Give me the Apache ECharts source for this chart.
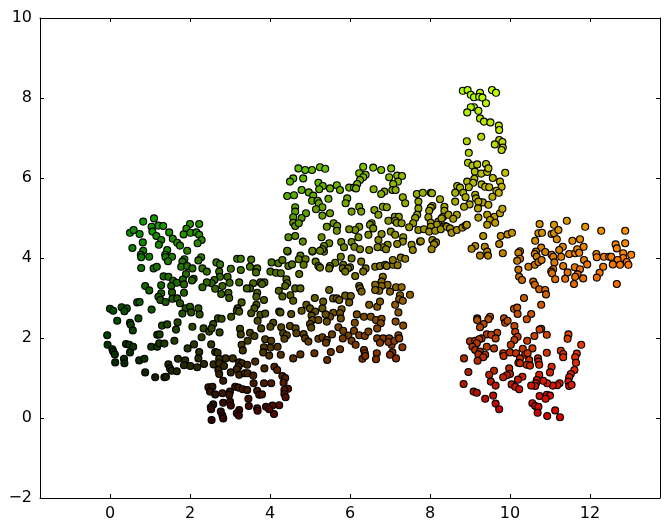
<!DOCTYPE html>
<html><head><meta charset="utf-8">
<style>html,body{margin:0;padding:0;background:#fff}#c{width:670px;height:532px}</style>
<script src="https://cdn.jsdelivr.net/npm/echarts@6/dist/echarts.min.js"></script>
</head><body><div id="c"></div>
<script>
const xTicks=[0,2,4,6,8,10,12];
const yTicks=[-2,0,2,4,6,8,10];
const greenCluster=[[0.83,4.91],[1.10,4.99],[0.50,4.63],[0.59,4.70],[0.74,4.60],[1.04,4.78],[1.06,4.66],[1.21,4.81],[1.33,4.80],[1.16,4.55],[1.48,4.64],[1.28,4.45],[1.22,4.33],[1.57,4.48],[1.68,4.38],[1.75,4.31],[1.93,4.18],[2.0,4.85],[2.23,4.85],[1.91,4.73],[1.84,4.59],[2.01,4.63],[2.16,4.64],[2.23,4.58],[2.29,4.45],[2.19,4.37],[0.82,4.39],[0.56,4.25],[0.83,4.18],[0.77,4.08],[0.78,4.02],[0.98,4.03],[0.78,3.75],[1.09,3.74],[1.17,3.78],[1.43,4.2],[1.38,4.08],[1.39,4.02],[1.55,4.03],[1.45,3.92],[1.86,3.97],[2.28,4.02],[2.21,3.94],[1.81,3.91],[1.78,3.78],[1.93,3.8],[2.06,3.74],[1.9,3.6],[2.31,3.74],[2.42,3.66],[2.66,3.89],[2.75,3.84],[2.73,3.66],[2.75,3.53],[2.61,3.45],[2.54,3.37],[2.42,3.39],[2.31,3.27],[2.63,3.23],[2.81,3.3],[2.78,3.1],[1.34,3.54],[1.46,3.53],[1.58,3.43],[1.82,3.46],[1.85,3.34],[2.09,3.48],[2.05,3.44],[1.67,3.38],[1.53,3.3],[1.28,3.32],[0.88,3.3],[0.98,3.19],[1.55,3.14],[1.85,3.13],[1.28,3.12],[1.21,3.03],[1.26,2.95],[1.39,2.9],[1.56,2.98],[1.68,2.99],[1.75,2.87],[1.89,2.74],[2.0,2.78],[2.03,2.64],[1.81,2.61],[2.21,2.74],[2.24,2.59]];
const darkGreenCluster=[[0,2.73],[0.08,2.68],[0.29,2.77],[0.42,2.74],[0.36,2.67],[0.68,2.89],[0.74,2.9],[1.04,2.71],[0.18,2.43],[0.71,2.49],[0.5,2.38],[0.52,2.33],[0.57,2.19],[-0.07,2.07],[-0.06,1.83],[0.06,1.72],[0.08,1.66],[0.12,1.59],[0.4,1.85],[0.48,1.83],[0.58,1.78],[0.5,1.64],[0.35,1.48],[0.13,1.39],[0.36,1.37],[0.73,1.44],[0.86,1.48],[0.88,1.14],[1.13,1.02],[1.36,1.02],[1.4,1.03],[1.3,2.31],[1.43,2.34],[1.69,2.39],[1.65,2.21],[1.18,2.08],[1.24,2.09],[1.61,1.93],[1.03,1.78],[1.18,1.78],[1.23,1.87],[1.36,1.86],[2.06,2.28],[2.34,2.24],[2.48,2.16],[2.58,2.35],[2.54,2.24],[2.7,2.49],[2.79,2.48],[2.74,2.14],[2.29,2.02],[2.1,1.84],[1.94,1.74],[2.53,1.84],[2.23,1.65],[2.21,1.49],[2.63,1.65],[2.69,1.63],[1.7,1.48],[1.88,1.44],[1.46,1.34],[1.5,1.24],[1.54,1.18],[1.67,1.17],[1.85,1.32],[2.01,1.3],[2.18,1.27],[2.35,1.35]];
const oliveCluster=[[3.18,3.98],[3.27,3.98],[3.53,3.96],[3.02,3.73],[3.27,3.7],[3.5,3.78],[3.68,3.74],[3.65,3.64],[2.94,3.53],[2.99,3.38],[2.96,3.13],[2.98,3.0],[3.23,3.39],[3.58,3.37],[3.76,3.39],[3.86,3.39],[3.8,3.35],[3.5,3.24],[3.42,3.24],[3.68,3.13],[3.66,3.03],[3.85,2.95],[3.29,2.89],[3.66,2.83],[3.61,2.74],[3.53,2.62],[3.19,2.74],[3.17,2.68],[3.23,2.66],[3.03,2.53],[3.76,2.58],[3.88,2.61],[3.69,2.43],[3.78,2.24],[4.08,2.38],[4.01,2.28],[3.25,2.23],[3.27,2.09],[3.5,2.13],[3.61,2.05],[3.44,1.93],[3.29,1.83],[3.32,1.69],[4.04,3.89],[4.21,3.87],[4.31,3.95],[4.44,4.16],[4.76,4.06],[4.72,3.97],[4.89,3.97],[4.84,3.83],[5.06,4.16],[5.35,4.16],[5.14,3.91],[5.21,3.8],[5.25,3.76],[4.46,3.8],[4.55,3.84],[4.01,3.66],[4.15,3.63],[4.27,3.62],[4.73,3.6],[4.41,3.47],[4.43,3.37],[4.38,3.3],[4.63,3.24],[4.76,3.24],[4.22,3.18],[4.31,3.04],[4.51,3.07],[4.58,2.93],[4.23,2.66],[4.26,2.64],[4.53,2.6],[4.79,2.68],[4.91,2.83],[5.12,3.0],[5.0,2.74],[5.13,2.66],[5.33,2.91],[5.31,2.74],[5.04,2.56],[5.06,2.45],[5.21,2.45],[5.0,2.35],[5.03,2.26],[4.5,2.3],[4.64,2.24],[4.66,2.12],[4.28,2.27],[4.33,2.12],[4.42,2.07],[4.36,1.98],[4.84,2.1],[4.88,1.99],[4.96,1.91],[5.21,1.98],[5.31,2.02],[3.88,1.97],[4.03,1.93],[4.01,1.76],[3.85,1.77],[3.83,1.64],[3.98,1.56],[4.19,1.78],[4.27,1.58],[4.58,1.49],[4.76,1.59],[5.11,1.62]];
const brownCluster=[[2.89,1.49],[3.07,1.49],[2.73,1.48],[2.59,1.34],[2.73,1.37],[2.85,1.3],[2.71,1.2],[2.73,1.1],[2.83,0.93],[3.23,1.39],[3.3,1.37],[3.43,1.33],[3.21,1.28],[3.17,1.22],[3.63,1.41],[3.02,1.14],[3.23,1.08],[3.37,1.12],[3.44,1.12],[3.58,1.06],[3.59,0.87],[3.86,1.24],[4.11,1.28],[4.18,1.2],[4.31,1.05],[4.38,1.0],[4.34,0.88],[4.45,0.73],[4.36,0.7],[4.36,0.6],[4.39,0.52],[3.85,0.87],[4.03,0.87],[2.46,0.77],[2.56,0.78],[2.5,0.66],[2.63,0.59],[2.81,0.62],[3.0,0.66],[2.98,0.58],[3.13,0.78],[3.21,0.76],[3.32,0.72],[3.43,0.7],[3.68,0.68],[3.73,0.58],[3.8,0.59],[2.83,0.38],[3.0,0.41],[3.02,0.31],[3.46,0.48],[3.47,0.3],[3.68,0.24],[3.69,0.18],[3.9,0.28],[4.06,0.31],[4.23,0.32],[4.1,0.1],[3.98,0.22],[2.58,0.34],[2.52,0.27],[2.53,0.22],[2.77,0.16],[2.81,0.06],[2.83,-0.01],[2.54,-0.05],[3.23,0.2],[3.17,0.12],[3.22,0.06]];
const upperCluster=[[4.71,6.24],[4.88,6.2],[5.05,6.2],[5.25,6.27],[5.38,6.23],[6.33,6.28],[6.58,6.26],[6.78,6.2],[7.03,6.24],[6.23,6.12],[6.39,6.08],[6.33,6.02],[6.25,5.95],[6.98,6.02],[7.18,6.06],[7.3,6.05],[7.2,5.91],[7.08,5.85],[7.06,5.7],[7.14,5.7],[4.58,5.99],[4.5,5.91],[4.83,5.99],[5.21,5.88],[5.32,5.8],[5.23,5.72],[5.5,5.74],[5.67,5.82],[5.75,5.7],[5.98,5.76],[6.1,5.76],[6.18,5.85],[6.15,5.74],[6.59,5.72],[6.86,5.66],[6.78,5.6],[4.79,5.7],[4.43,5.55],[4.6,5.57],[4.97,5.64],[5.08,5.56],[5.05,5.43],[5.19,5.43],[5.22,5.37],[5.46,5.48],[5.93,5.49],[5.89,5.37],[7.32,5.52],[7.38,5.37],[7.67,5.6],[7.71,5.41],[6.82,5.28],[6.92,5.27],[6.23,5.28],[6.28,5.16],[6.04,5.16],[6.61,5.2],[6.71,5.08],[4.63,5.27],[4.63,5.16],[5.31,5.27],[5.15,5.22],[5.31,5.06],[5.5,5.12],[4.9,5.12],[4.79,5.0],[4.58,5.02],[4.58,4.88],[4.63,4.8],[4.72,4.87],[7.71,5.24],[7.68,5.08],[7.63,5.0],[7.58,4.87],[7.48,4.77],[7.71,4.7],[6.96,4.93],[7.12,5.03],[7.22,5.03],[7.13,4.93],[7.17,4.88],[7.29,4.87],[6.54,4.87],[6.5,4.83],[6.58,4.74],[6.46,4.58],[6.23,4.78],[6.13,4.7],[5.98,4.72],[6.21,4.52],[5.42,4.78],[5.59,4.87],[5.68,4.8],[5.67,4.68],[5.29,4.52],[5.48,4.37],[4.46,4.52],[4.63,4.55],[4.82,4.41],[4.43,4.18],[5.06,4.18],[5.35,4.3],[5.31,4.22],[5.25,4.18],[5.78,4.4],[5.85,4.27],[6.04,4.4],[6.11,4.28],[6.25,4.22],[6.48,4.2],[6.71,4.45],[6.79,4.6],[7.02,4.66],[7.13,4.58],[7.33,4.52],[7.32,4.41],[7.18,4.35],[6.94,4.33],[6.82,4.27],[6.69,4.27],[6.9,4.22],[7.54,4.33],[7.57,4.2],[7.75,4.41],[5.77,4.03],[6.04,3.99],[6.28,3.91],[5.63,3.88],[5.5,3.8],[5.48,3.74],[5.83,3.83],[5.82,3.74],[6.0,3.77],[5.95,3.74],[5.88,3.66],[6.39,3.74],[6.33,3.66],[6.13,3.55],[6.63,3.78],[6.75,3.8],[6.88,3.83],[6.92,3.8],[7.08,3.83],[7.19,3.82],[7.07,3.95],[7.27,4.01],[7.38,3.98],[6.82,3.53],[6.79,3.41],[6.94,3.33],[6.79,3.3],[6.63,3.33],[7.15,3.27],[7.29,3.27],[6.23,3.3]];
const midCluster=[[5.48,3.2],[5.58,2.99],[5.67,2.99],[5.73,2.95],[5.88,3.06],[6.02,3.05],[5.98,2.89],[5.79,2.72],[5.75,2.62],[5.77,2.49],[5.58,2.63],[5.5,2.53],[5.39,2.59],[5.42,2.41],[6.25,3.24],[6.29,3.16],[6.48,2.83],[6.68,2.78],[6.75,2.91],[6.73,3.18],[6.63,3.2],[7.0,3.16],[7.25,3.07],[7.23,2.97],[7.32,2.93],[7.5,3.08],[7.13,2.83],[7.21,2.64],[6.17,2.59],[6.35,2.53],[6.52,2.53],[6.65,2.45],[6.79,2.48],[6.77,2.37],[6.68,2.24],[7.14,2.41],[7.33,2.31],[6.12,2.38],[5.71,2.27],[5.83,2.18],[5.96,2.06],[5.82,1.99],[6.04,1.93],[6.14,1.83],[6.1,2.18],[6.23,2.07],[6.37,2.05],[6.46,2.16],[5.55,2.09],[5.42,1.95],[5.4,1.88],[5.52,1.65],[5.75,1.72],[5.43,1.45],[6.68,1.99],[6.83,1.99],[6.75,1.88],[6.98,1.99],[7.04,1.83],[6.96,1.9],[7.11,1.93],[7.21,2.07],[7.23,1.99],[7.31,1.77],[6.35,1.7],[6.37,1.62],[6.67,1.62],[6.65,1.47],[6.31,1.48],[6.38,1.55],[7.06,1.64],[7.0,1.58],[7.15,1.49]];
const topCluster=[[8.82,8.18],[8.94,8.2],[9.02,8.08],[9.1,8.02],[9.25,8.13],[9.23,8.03],[9.31,8.01],[9.55,8.2],[9.65,8.13],[9.4,7.87],[9.1,7.77],[9.02,7.77],[9.21,7.68],[8.93,7.64],[9.25,7.49],[9.35,7.41],[9.51,7.39],[9.72,7.31],[9.73,7.2],[9.28,7.03],[8.92,6.92],[9.73,6.95],[9.81,6.9],[9.62,6.84],[9.82,6.76],[9.79,6.7],[8.97,6.63],[8.95,6.38],[9.06,6.31],[9.18,6.34],[9.4,6.35],[9.12,6.16],[9.28,6.11],[9.43,6.15],[9.46,6.24],[9.88,6.13],[9.57,6.0],[9.11,5.98],[8.93,5.91],[9.08,5.88],[8.97,5.77],[9.29,5.84],[9.38,5.78],[9.48,5.77],[9.75,5.91],[9.79,5.78],[9.66,5.68],[9.72,5.63],[8.68,5.8],[8.75,5.76],[8.63,5.63],[8.83,5.63],[8.89,5.52],[9.13,5.58],[9.15,5.49],[9.32,5.39],[9.21,5.41],[9.56,5.53],[9.46,5.33],[8.63,5.41],[8.99,5.34],[8.85,5.28],[9.2,5.24],[9.21,5.01],[9.43,5.08],[9.61,5.03],[9.75,5.12],[9.81,5.23],[9.5,4.95],[9.43,4.83],[9.63,4.88],[8.67,5.08]];
const bridgeCluster=[[7.82,5.63],[8.02,5.63],[8.05,5.62],[8.25,5.47],[8.06,5.3],[8.02,5.26],[7.98,5.18],[8.36,5.28],[8.36,5.18],[8.33,5.03],[8.46,5.08],[8.58,4.98],[7.96,5.02],[8.02,4.88],[8.21,4.91],[8.29,4.99],[8.38,4.8],[8.17,4.83],[8.02,4.78],[7.85,4.72],[7.98,4.66],[8.13,4.68],[8.27,4.72],[8.42,4.78],[8.5,4.74],[8.54,4.63],[8.67,4.7],[8.81,4.76],[8.89,4.81],[8.92,4.83],[7.77,4.42],[8.06,4.45],[8.15,4.39],[8.1,4.34],[8.04,4.22],[9.33,4.55],[9.77,4.55],[9.94,4.59],[10.05,4.63],[9.73,4.35],[9.13,4.3],[9.04,4.23],[9.37,4.28],[9.43,4.16],[9.45,4.06],[9.25,4.06],[9.82,4.12]];
const orangeCluster=[[10.74,4.85],[11.1,4.83],[11.42,4.93],[11.88,4.78],[12.28,4.68],[12.88,4.68],[10.71,4.62],[10.8,4.63],[11.04,4.6],[11.1,4.62],[11.21,4.7],[11.17,4.47],[10.63,4.43],[11.56,4.43],[11.75,4.47],[11.84,4.28],[11.32,4.28],[11.23,4.2],[10.78,4.26],[10.88,4.15],[10.65,4.16],[10.62,4.1],[11.04,4.08],[11.08,4.03],[11.28,4.03],[11.48,4.1],[11.63,4.12],[11.68,4.22],[11.73,4.13],[12.64,4.34],[12.88,4.37],[12.16,4.1],[12.17,4.02],[12.35,4.03],[12.48,4.03],[12.53,4.03],[12.67,4.24],[12.83,4.12],[12.83,4.0],[13.03,4.08],[12.69,3.95],[12.92,3.9],[12.96,3.83],[12.75,3.83],[12.57,3.84],[10.25,4.17],[10.21,4.13],[10.25,3.98],[10.18,3.93],[10.67,4.03],[10.62,3.83],[10.71,3.9],[10.79,3.95],[10.46,3.78],[11.11,3.89],[11.08,3.72],[11.03,3.66],[11.05,3.62],[11.33,3.8],[11.44,3.64],[11.62,3.77],[11.75,3.72],[11.85,3.95],[11.93,3.84],[11.69,3.59],[11.63,3.53],[11.38,3.48],[11.13,3.47],[11.83,3.49],[11.6,3.35],[12.33,3.78],[12.24,3.63],[12.17,3.51],[12.67,3.35],[10.21,3.71],[10.23,3.53],[10.3,3.45],[10.58,3.41],[10.62,3.33],[10.73,3.22],[10.88,3.2],[10.9,3.09],[10.35,3.0],[10.78,2.83],[10.1,2.73],[10.18,2.76]];
const redCluster=[[10.19,2.6],[10.53,2.6],[10.42,2.47],[9.18,2.49],[9.18,2.45],[9.5,2.53],[9.46,2.47],[9.85,2.49],[9.88,2.38],[9.94,2.43],[9.34,2.35],[9.25,2.27],[10.11,2.3],[10.13,2.15],[10.78,2.23],[10.74,2.21],[10.61,2.05],[10.92,2.08],[10.19,2.03],[10.11,1.95],[10.02,1.83],[10.43,1.93],[9.68,2.13],[9.42,2.09],[9.53,2.08],[9.64,1.99],[9.29,1.99],[9.0,1.92],[9.13,1.93],[9.23,1.97],[9.17,1.87],[9.06,1.78],[9.13,1.7],[9.42,1.78],[9.6,1.74],[9.25,1.66],[9.21,1.59],[9.38,1.58],[9.33,1.52],[9.19,1.43],[8.85,1.49],[9.83,1.62],[9.84,1.55],[10.0,1.64],[10.15,1.62],[10.32,1.73],[10.56,1.74],[10.38,1.58],[10.44,1.62],[10.25,1.49],[10.48,1.45],[10.21,1.38],[10.25,1.37],[10.42,1.33],[10.5,1.31],[10.7,1.49],[10.71,1.41],[10.73,1.33],[10.92,1.63],[11.27,1.68],[11.33,1.6],[11.33,1.52],[11.46,2.09],[11.44,1.98],[11.78,1.83],[11.67,1.61],[11.63,1.52],[11.65,1.38],[11.61,1.2],[11.52,1.1],[11.48,1.02],[11.46,0.91],[11.48,0.8],[11.54,0.83],[11.24,0.87],[11.18,0.82],[11.07,0.81],[10.93,0.87],[10.83,0.93],[10.73,1.08],[10.67,0.95],[10.65,0.87],[10.63,0.8],[10.53,0.81],[10.31,1.03],[10.2,0.96],[10.04,0.84],[10.13,0.78],[10.23,0.72],[9.98,1.24],[10.0,1.1],[9.92,1.07],[9.83,1.02],[9.6,1.18],[9.48,1.08],[9.52,0.91],[9.64,0.81],[8.96,1.15],[8.84,0.85],[9.09,0.66],[9.17,0.63],[9.38,0.48],[9.58,0.56],[9.64,0.36],[9.73,0.22],[10.74,0.55],[10.92,0.58],[11.0,0.56],[10.89,0.48],[10.56,0.37],[10.63,0.3],[10.71,0.28],[10.69,0.13],[10.93,0.05],[11.13,0.19],[11.25,0.02],[11.04,1.28],[11.0,1.14]];
const points=[].concat(greenCluster,darkGreenCluster,oliveCluster,brownCluster,upperCluster,midCluster,topCluster,bridgeCluster,orangeCluster,redCluster);
const xMax=13.03, yMax=8.2;
const font='"DejaVu Sans"';
const hex=v=>Math.max(0,Math.min(255,Math.round(v*255))).toString(16).padStart(2,'0');
function ax(pos,ticks,labels,extra,labelPad){
  return Object.assign({type:'value',position:pos,splitLine:{show:false},
    axisLine:{show:true,onZero:false,lineStyle:{color:'#000',width:1}},
    axisTick:{show:true,inside:true,length:4,customValues:ticks,lineStyle:{color:'#000',width:1}},
    axisLabel:{show:labels,customValues:ticks,color:'#000',fontFamily:font,fontSize:16,margin:8,padding:labelPad,
      formatter:v=>String(v).replace('-','\u2212')}},extra);
}
const xr={min:-1.75,max:13.75}, yr={min:-2,max:10};
const chart=echarts.init(document.getElementById('c'),null,{renderer:'canvas'});
chart.setOption({animation:false,backgroundColor:'#fff',
  grid:{left:40,right:10,top:18,bottom:34,containLabel:false},
  xAxis:[ax('bottom',xTicks,true,xr,[0,0,0,0]),ax('top',xTicks,false,xr,[0,0,0,0])],
  yAxis:[ax('left',yTicks,true,yr,[4,0,0,0]),ax('right',yTicks,false,yr,[0,0,0,0])],
  series:[{type:'scatter',data:points,symbol:'circle',symbolSize:7,
    itemStyle:{borderColor:'#000',borderWidth:1.1,opacity:1,
      color:p=>'#'+hex(p.value[0]/xMax)+hex(p.value[1]/yMax)+'00'}}]
});
</script></body></html>
